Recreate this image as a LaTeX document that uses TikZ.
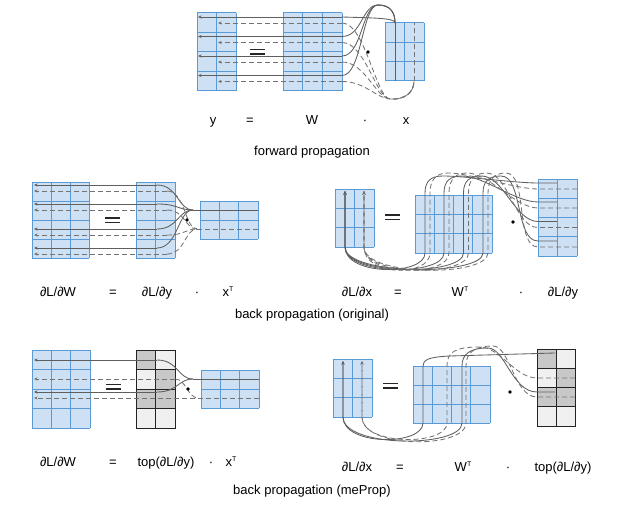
\documentclass[tikz,border=0pt]{standalone}
\usepackage{fontspec}
\setmainfont{Liberation Sans}
\usetikzlibrary{arrows.meta}
\definecolor{matfill}{RGB}{206,224,244}
\definecolor{matline}{RGB}{91,155,213}
\definecolor{linegray}{RGB}{95,95,95}
\definecolor{dashgray}{RGB}{115,115,115}
\definecolor{darkcell}{RGB}{200,200,200}
\definecolor{lightcell}{RGB}{240,240,240}
\definecolor{cellline}{RGB}{35,35,35}
\newcommand\bluemat[6]{%
  \fill[matfill] (#1,#2) rectangle (#3,#4);
  \foreach \i in {0,...,#5} \draw[matedge] ({#1+\i*(#3-#1)/#5},#2) -- ({#1+\i*(#3-#1)/#5},#4);
  \foreach \j in {0,...,#6} \draw[matedge] (#1,{#2+\j*(#4-#2)/#6}) -- (#3,{#2+\j*(#4-#2)/#6});
}
\newcommand\graymat[4]{%
  \pgfmathsetmacro\gmx{(#1+#3)/2}%
  \pgfmathsetmacro\gh{(#4-#2)/4}%
  \fill[lightcell] (#1,#2) rectangle (#3,#4);
  \fill[darkcell] (#1,#2) rectangle (\gmx,{#2+\gh});
  \fill[darkcell] (\gmx,{#2+\gh}) rectangle (#3,{#2+2*\gh});
  \fill[darkcell] (#1,{#2+2*\gh}) rectangle (#3,{#2+3*\gh});
  \draw[celledge] (#1,#2) rectangle (#3,#4);
  \draw[celledge] (\gmx,#2) -- (\gmx,#4);
  \foreach \j in {1,2,3} \draw[celledge] (#1,{#2+\j*\gh}) -- (#3,{#2+\j*\gh});
}
\newcommand\eqsign[2]{%
  \draw[eqline] (#1,#2) -- ++(15,0);
  \draw[eqline] (#1,#2+4.5) -- ++(15,0);
}
\begin{document}
\begin{tikzpicture}[x=1pt,y=-1pt,
  matedge/.style={draw=matline,line width=1pt},
  celledge/.style={draw=cellline,line width=1pt},
  sol/.style={draw=linegray,line width=0.85pt},
  das/.style={draw=dashgray,line width=0.85pt,dash pattern=on 5pt off 3pt},
  arr/.style={-{Stealth[length=3.5pt,width=3pt]}},
  eqline/.style={draw=black!85,line width=1.3pt},
  lbl/.style={font=\fontsize{13}{15}\selectfont,inner sep=0pt,anchor=base},
  dotm/.style={fill=black,draw=none}]
\useasboundingbox (0,0) rectangle (623,513);
\newcommand\supT{\raisebox{5pt}{\fontsize{7}{8}\selectfont T}}

% ================= forward propagation =================
\bluemat{197}{13}{236}{91}{2}{4}
\bluemat{283}{13}{342}{91}{3}{4}
\bluemat{385}{23}{424}{81}{2}{3}
\eqsign{250}{49.5}
\foreach \y in {17,36.5,56,75.5} \draw[sol,arr] (342,\y) -- (198,\y);
\foreach \y in {23,42.5,62,81.5} \draw[das,arr] (342,\y) -- (218,\y);
\draw[sol] (342,17) .. controls (375,18) and (395,18) .. (395,23);
\foreach \y in {36.5,56,75.5}
  \draw[sol] (342,\y) .. controls (362,\y) and (362,5) .. (378,5) .. controls (390,5) and (395,12) .. (395,23);
\draw[sol] (395,23) -- (395,81);
\foreach \y in {23,42.5,62,81.5}
  \draw[das] (342,\y) .. controls (365,\y) and (376,98) .. (390,99) .. controls (404,100) and (414,93) .. (414,81);
\draw[das] (414,81) -- (414,23);
\fill[dotm] (368,52) circle (1.8);

\node[lbl] (fy) at (213,125) {y};
\node[lbl] (feq) at (250,125) {=};
\node[lbl] (fW) at (312,125) {W};
\node[lbl] (fdot) at (365,125) {·};
\node[lbl] (fx) at (406,125) {x};
\node[lbl] (fcap) at (312,156) {forward propagation};

% ================= back propagation (original), left =================
\bluemat{32}{182}{89}{258}{3}{4}
\bluemat{136}{182}{175}{258}{2}{4}
\bluemat{200}{201}{258}{239}{3}{2}
\eqsign{105}{218}
\foreach \y in {185,204,229,248} {
  \draw[sol,arr] (157,\y) -- (34,\y);
  \draw[sol] (157,\y) .. controls (178,\y) and (178,210) .. (193,210);
}
\draw[sol] (193,210) -- (258,210);
\foreach \y in {191,210,235,254} {
  \draw[das,arr] (167,\y) -- (34,\y);
  \draw[das] (167,\y) .. controls (185,\y) and (185,229) .. (197,229);
}
\draw[das] (197,229) -- (258,229);
\fill[dotm] (187,220) circle (1.8);

% ================= back propagation (original), right =================
\bluemat{335}{189}{374}{247}{2}{3}
\bluemat{415}{195}{492}{253}{4}{3}
\bluemat{538}{179}{577}{256}{2}{4}
\eqsign{385}{215}
\foreach \xs/\yr in {425/183,444/202,463.5/221.5,483/241}
  \draw[sol,arr] (557,\yr) -- (538,\yr) .. controls (515,\yr) and ({\xs+40},176) .. ({\xs+18},176)
     .. controls ({\xs+6},176) and (\xs,181) .. (\xs,193) -- (\xs,253)
     .. controls (\xs,276) and (345,276) .. (345,247) -- (345,191);
\foreach \xd/\yr in {430/189,449/208,468.5/227.5,488/247}
  \draw[das,arr] (577,\yr) -- (538,\yr) .. controls (515,\yr) and ({\xd+40},173) .. ({\xd+18},173)
     .. controls ({\xd+6},173) and (\xd,180) .. (\xd,193) -- (\xd,253)
     .. controls (\xd,277) and (364,277) .. (364,247) -- (364,191);
\fill[dotm] (513,222) circle (1.8);

\node[lbl] at (58,296) {∂L/∂W};
\node[lbl] at (113,296) {=};
\node[lbl] at (157,296) {∂L/∂y};
\node[lbl] at (197,296) {·};
\node[lbl] at (228,296) {x\supT};
\node[lbl] at (357,296) {∂L/∂x};
\node[lbl] at (398,296) {=};
\node[lbl] at (460,296) {W\supT};
\node[lbl] at (521,296) {·};
\node[lbl] at (563,296) {∂L/∂y};
\node[lbl] at (312,318) {back propagation (original)};

% ================= back propagation (meProp), left =================
\bluemat{32}{350}{90}{428}{3}{4}
\graymat{136}{350}{175}{428}
\bluemat{201}{370}{259}{408}{3}{2}
\eqsign{106}{384.5}
\draw[sol,arr] (157,360) -- (34,360);
\draw[sol] (157,360) .. controls (178,360) and (178,379) .. (193,379);
\draw[sol,arr] (157,392) -- (34,392);
\draw[sol] (157,392) .. controls (178,392) and (178,379) .. (193,379);
\draw[sol] (193,379) -- (259,379);
\draw[das,arr] (175,379) -- (34,379);
\draw[das] (175,379) .. controls (186,379) and (188,398) .. (198,398);
\draw[das,arr] (259,398) -- (34,398);
\fill[dotm] (188,389) circle (1.8);

% ================= back propagation (meProp), right =================
\bluemat{333}{359}{372}{417}{2}{3}
\bluemat{413}{366}{490}{423}{4}{3}
\graymat{537}{349}{575}{426}
\eqsign{383}{383.5}
\draw[sol,arr] (555,353) -- (450,356) .. controls (428,357) and (423,360) .. (423,366) -- (423,423)
   .. controls (423,446) and (343,446) .. (343,417) -- (343,361);
\draw[das,arr] (575,378) -- (537,378) .. controls (515,378) and (500,347) .. (480,347)
   .. controls (455,347) and (447,352) .. (447,366) -- (447,423)
   .. controls (447,446) and (362,446) .. (362,417) -- (362,361);
\draw[sol,arr] (555,392) -- (537,392) .. controls (512,392) and (505,348) .. (488,348)
   .. controls (470,348) and (462,354) .. (462,366) -- (462,423)
   .. controls (462,448) and (343,448) .. (343,417) -- (343,361);
\draw[das,arr] (575,397) -- (537,397) .. controls (514,397) and (510,346) .. (493,346)
   .. controls (474,346) and (466,353) .. (466,366) -- (466,423)
   .. controls (466,449) and (362,449) .. (362,417) -- (362,361);
\fill[dotm] (510,392) circle (1.8);

\node[lbl] at (58,466) {∂L/∂W};
\node[lbl] at (113,466) {=};
\node[lbl] at (166,466) {top(∂L/∂y)};
\node[lbl] at (211,466) {·};
\node[lbl] at (231,466) {x\supT};
\node[lbl] at (357,471) {∂L/∂x};
\node[lbl] at (400,471) {=};
\node[lbl] at (463,471) {W\supT};
\node[lbl] at (508,471) {·};
\node[lbl] at (563,471) {top(∂L/∂y)};
\node[lbl] at (312,494) {back propagation (meProp)};
\end{tikzpicture}
\end{document}
